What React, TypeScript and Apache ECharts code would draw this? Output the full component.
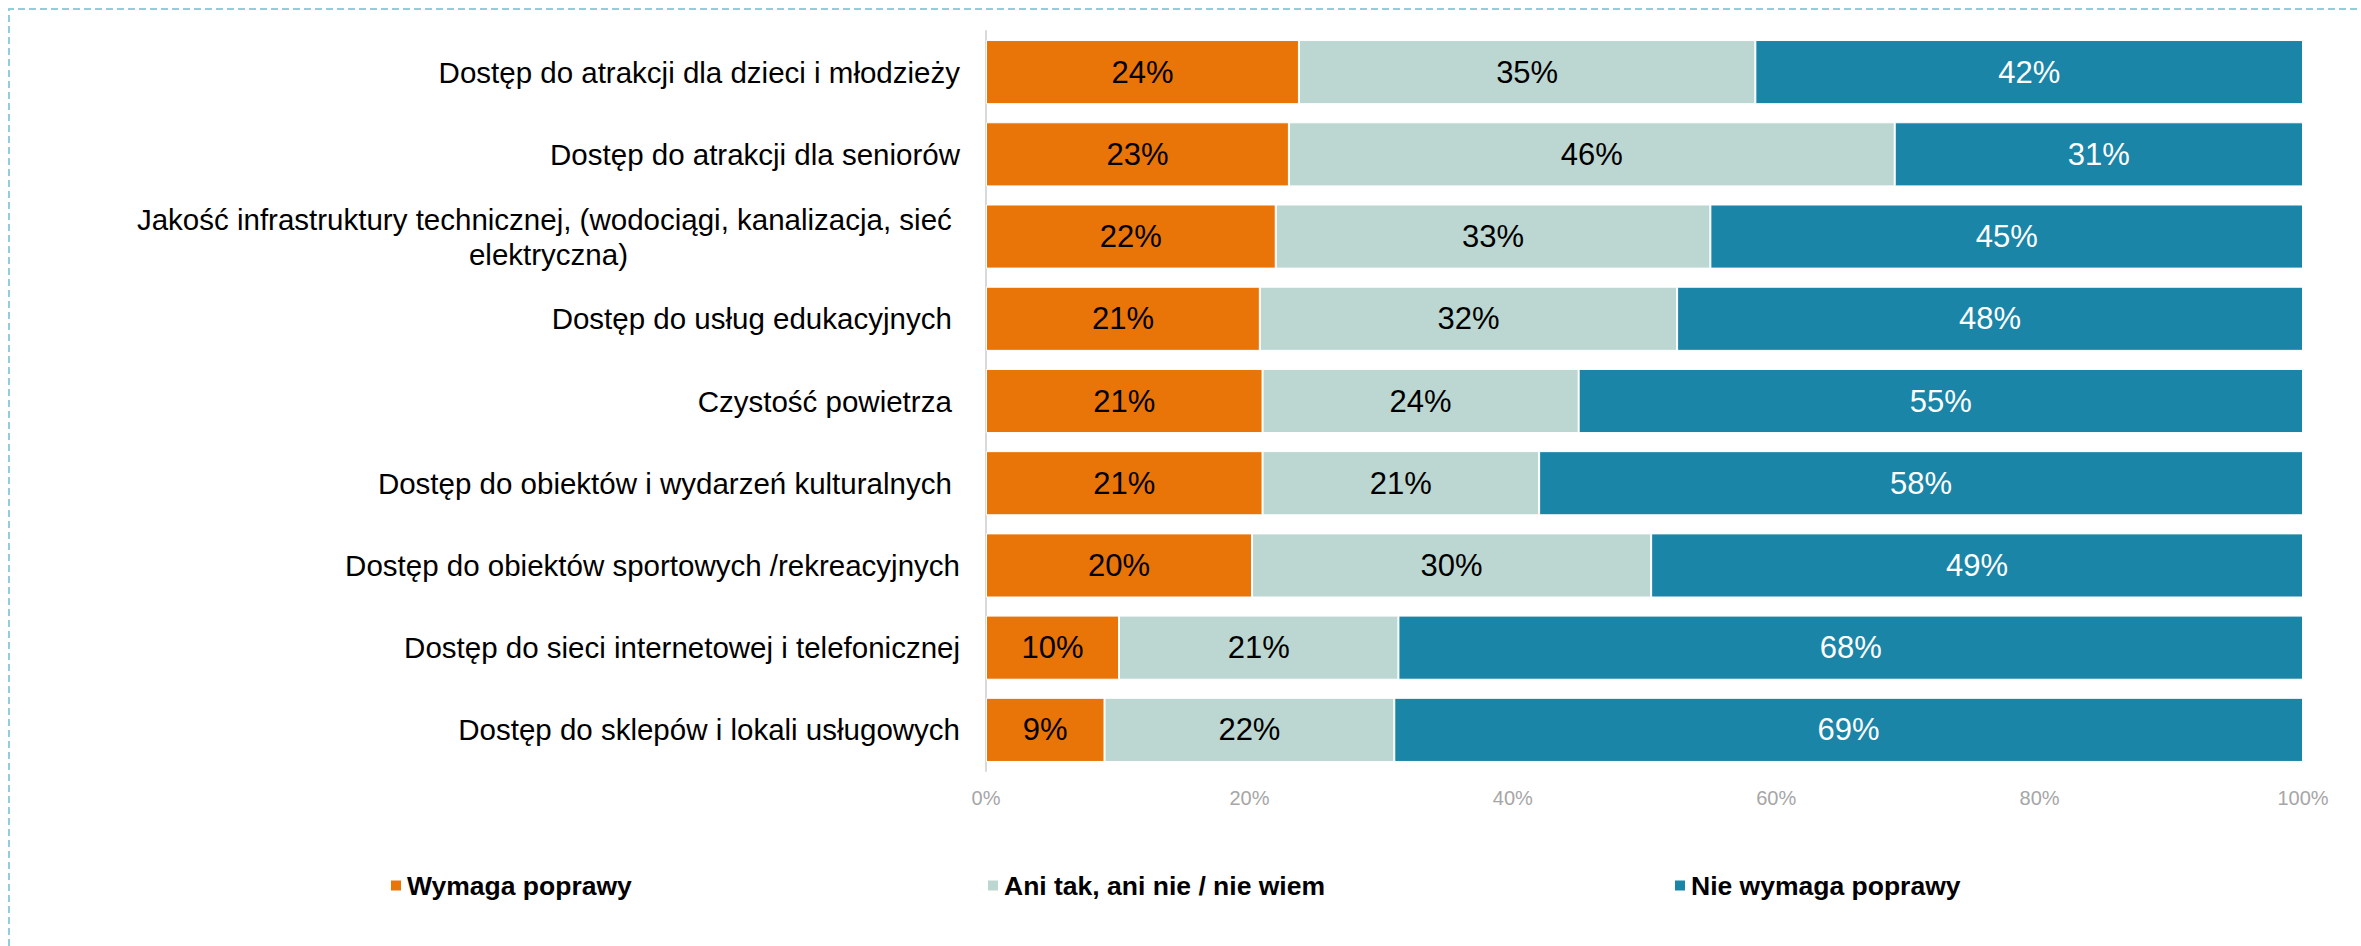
import React, { useEffect, useRef } from "react";
import * as echarts from "echarts";

const categories = [
  "Dostęp do atrakcji dla dzieci i młodzieży",
  "Dostęp do atrakcji dla seniorów",
  "Jakość infrastruktury technicznej, (wodociągi, kanalizacja, sieć elektryczna)",
  "Dostęp do usług edukacyjnych ",
  "Czystość powietrza ",
  "Dostęp do obiektów i wydarzeń kulturalnych ",
  "Dostęp do obiektów sportowych /rekreacyjnych",
  "Dostęp do sieci internetowej i telefonicznej",
  "Dostęp do sklepów i lokali usługowych",
];

const seriesNames = ["Wymaga poprawy", "Ani tak, ani nie / nie wiem", "Nie wymaga poprawy"];

const needsImprovement = [24, 23, 22, 21, 21, 21, 20, 10, 9];
const neutral = [35, 46, 33, 32, 24, 21, 30, 21, 22];
const noImprovement = [42, 31, 45, 48, 55, 58, 49, 68, 69];

const xTickValues = [0, 20, 40, 60, 80, 100];

const colors = ["#E97407", "#BCD6D1", "#1A85A7"];
const labelColors = ["#000000", "#000000", "#FFFFFF"];

const FONT = "Liberation Sans, Arial, sans-serif";

export default function App() {
  const ref = useRef<HTMLDivElement>(null);

  useEffect(() => {
    if (!ref.current) return;
    const chart = echarts.init(ref.current, undefined, { renderer: "svg" });
    const raw = [needsImprovement, neutral, noImprovement];
    const totals = categories.map((_, i) => raw[0][i] + raw[1][i] + raw[2][i]);

    const series = raw.map((arr, s) => ({
      name: seriesNames[s],
      type: "bar",
      stack: "total",
      barCategoryGap: "22%",
      itemStyle: { color: colors[s], borderColor: "#FFFFFF", borderWidth: 1 },
      label: {
        show: true,
        position: "inside",
        color: labelColors[s],
        fontSize: 31,
        fontFamily: FONT,
        formatter: (p: any) => `${arr[p.dataIndex]}%`,
      },
      data: arr.map((v, i) => (v / totals[i]) * 100),
    }));

    const legendLefts = [389, 986, 1673];

    chart.setOption({
      animation: false,
      textStyle: { fontFamily: FONT },
      graphic: [
        {
          type: "polyline",
          shape: { points: [[9, 946], [9, 9], [2361, 9]] },
          style: { stroke: "#92CDDC", lineWidth: 2, lineDash: [7, 4], fill: null },
          silent: true,
        },
      ],
      legend: seriesNames.map((n, i) => ({
        data: [n],
        left: legendLefts[i],
        top: 872,
        padding: 0,
        itemWidth: 12,
        itemHeight: 12,
        icon: "rect",
        selectedMode: false,
        textStyle: { fontSize: 26.5, fontWeight: "bold", color: "#000", fontFamily: FONT },
      })),
      grid: { left: 986, right: 58, top: 31, bottom: 175, containLabel: false },
      xAxis: {
        type: "value",
        min: 0,
        max: 100,
        interval: 20,
        axisLine: { show: false },
        axisTick: { show: false },
        splitLine: { show: false },
        axisLabel: {
          color: "#A6A6A6",
          fontSize: 20,
          fontFamily: FONT,
          margin: 17,
          formatter: (v: number) => (xTickValues.includes(v) ? `${v}%` : ""),
        },
      },
      yAxis: {
        type: "category",
        inverse: true,
        data: categories,
        axisLine: { show: true, lineStyle: { color: "#D9D9D9", width: 2 } },
        axisTick: { show: false },
        axisLabel: {
          color: "#000",
          fontSize: 29.5,
          fontFamily: FONT,
          margin: 26,
          formatter: (v: string) => {
            if (v.length > 60) {
              const idx = v.lastIndexOf(" ");
              return `{c|${v.slice(0, idx)} }\n{c|${v.slice(idx + 1)}}`;
            }
            return v;
          },
          rich: {
            c: { align: "center", fontSize: 29.5, lineHeight: 35, color: "#000", fontFamily: FONT },
          },
        },
      },
      series,
    });

    return () => chart.dispose();
  }, []);

  return (
    <div
      ref={ref}
      style={{ position: "absolute", left: 0, top: 0, width: 2361, height: 946, background: "#fff" }}
    />
  );
}
